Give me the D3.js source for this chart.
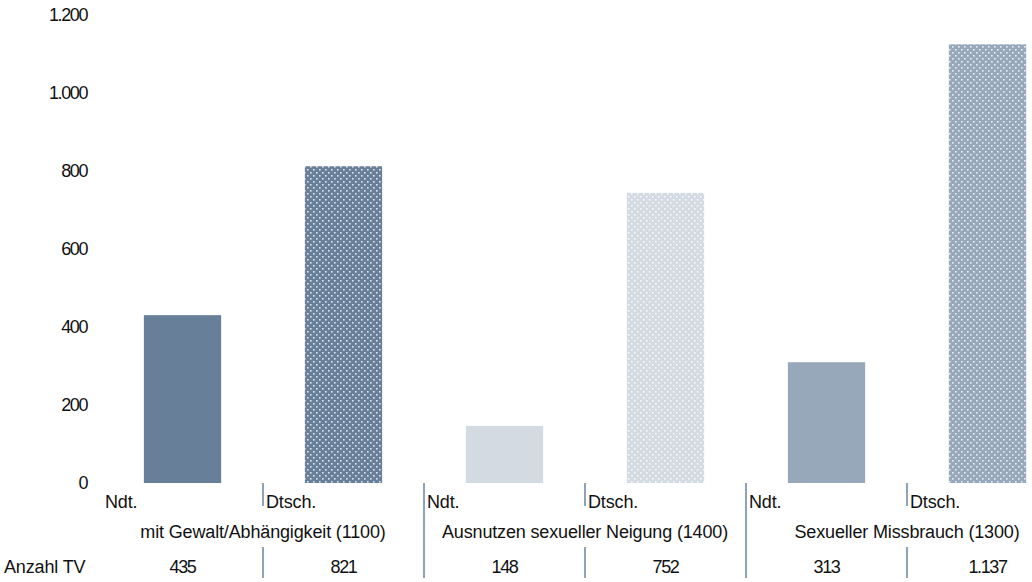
<html>
  <head>
    <meta charset="utf-8"/>
    <style>
      body { margin: 0; background: #fff; }
      text { font-family: "Liberation Sans", Arial, sans-serif; font-size: 18px; fill: #111; letter-spacing: -0.15px; }
      text.num { letter-spacing: -1.4px; }
    </style>
  </head>
  <body>
    <svg></svg>
  </body>
  <script src="https://d3js.org/d3.v7.min.js"></script>
  <script>
  var slots = ["Ndt.", "Dtsch.", "Ndt.", "Dtsch.", "Ndt.", "Dtsch."]
  var groups = ["mit Gewalt/Abhängigkeit (1100)", "Ausnutzen sexueller Neigung (1400)", "Sexueller Missbrauch (1300)"]
  var values = [435, 821, 148, 752, 313, 1137]
  var counts = ["435", "821", "148", "752", "313", "1.137"]
  var yTicks = [0, 200, 400, 600, 800, 1000, 1200]
  var colors = ["#687f99", "#687f99", "#d3dae2", "#d3dae2", "#97a8bb", "#97a8bb"]
  var dotted = [false, true, false, true, false, true]

  var width = 1032, height = 582

  var svg = d3.select("svg")
    .attr("width", width)
    .attr("height", height)

  var y = d3.scaleLinear()
    .domain([0, 1200])
    .range([483, 20]);

  // tick labels sit on a slightly wider grid than the bars
  var yLab = d3.scaleLinear()
    .domain([0, 1200])
    .range([483, 15]);

  var x = d3.scaleBand()
    .domain(d3.range(slots.length))
    .range([102, 1068])
    .padding(0)

  var defs = svg.append("defs")
  colors.forEach(function(c, i) {
    if (!dotted[i]) return
    var p = defs.append("pattern")
      .attr("id", "dots" + i)
      .attr("patternUnits", "userSpaceOnUse")
      .attr("width", 6).attr("height", 6)
    p.append("rect").attr("width", 6).attr("height", 6).attr("fill", c)
    p.append("rect").attr("x", 1).attr("y", 1).attr("width", 1.6).attr("height", 1.6).attr("fill", "#fff").attr("opacity", 0.8)
    p.append("rect").attr("x", 4).attr("y", 4).attr("width", 1.6).attr("height", 1.6).attr("fill", "#fff").attr("opacity", 0.8)
  })

  var barW = x.bandwidth() * 0.48

  svg.selectAll("rect.bar")
    .data(values)
    .enter().append("rect")
    .attr("class", "bar")
    .attr("x", function(d, i) { return x(i) + (x.bandwidth() - barW) / 2 })
    .attr("y", function(d) { return y(d) })
    .attr("width", barW)
    .attr("height", function(d) { return y(0) - y(d) })
    .attr("fill", function(d, i) { return dotted[i] ? "url(#dots" + i + ")" : colors[i] })

  // y axis labels
  svg.selectAll("text.ytick")
    .data(yTicks)
    .enter().append("text")
    .attr("class", "ytick num")
    .attr("x", 87)
    .attr("y", function(d) { return yLab(d) })
    .attr("dy", "0.35em")
    .attr("text-anchor", "end")
    .text(function(d) { return d3.format(",")(d).replace(/,/g, ".") })

  // separators
  var sepColor = "#6a84a0"
  d3.range(1, slots.length).forEach(function(i) {
    var xx = x(i)
    if (i % 2 == 0) {
      svg.append("line").attr("x1", xx).attr("x2", xx).attr("y1", 483).attr("y2", 578)
        .attr("stroke", sepColor).attr("stroke-width", 1.5)
    } else {
      svg.append("line").attr("x1", xx).attr("x2", xx).attr("y1", 483).attr("y2", 506)
        .attr("stroke", sepColor).attr("stroke-width", 1.5)
      svg.append("line").attr("x1", xx).attr("x2", xx).attr("y1", 547).attr("y2", 578)
        .attr("stroke", sepColor).attr("stroke-width", 1.5)
    }
  })

  svg.selectAll("text.slot")
    .data(slots)
    .enter().append("text")
    .attr("class", "slot")
    .attr("x", function(d, i) { return x(i) + 3 })
    .attr("y", 502)
    .attr("dy", "0.35em")
    .text(function(d) { return d })

  svg.selectAll("text.group")
    .data(groups)
    .enter().append("text")
    .attr("class", "group")
    .attr("x", function(d, i) { return x(i * 2 + 1) })
    .attr("y", 532)
    .attr("dy", "0.35em")
    .attr("text-anchor", "middle")
    .text(function(d) { return d })

  svg.append("text")
    .attr("x", 4)
    .attr("y", 567)
    .attr("dy", "0.35em")
    .text("Anzahl TV")

  svg.selectAll("text.count")
    .data(counts)
    .enter().append("text")
    .attr("class", "count num")
    .attr("x", function(d, i) { return x(i) + x.bandwidth() / 2 })
    .attr("y", 567)
    .attr("dy", "0.35em")
    .attr("text-anchor", "middle")
    .text(function(d) { return d })
  </script>
</html>
